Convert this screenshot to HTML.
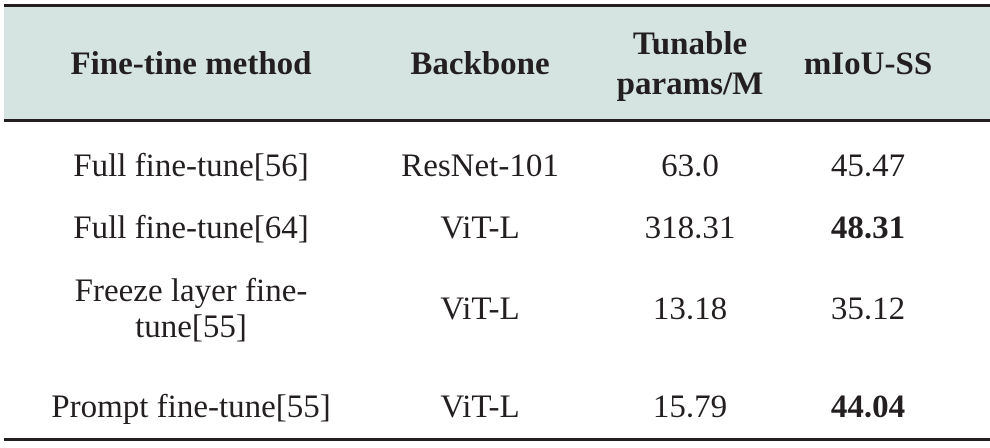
<!DOCTYPE html>
<html><head><meta charset="utf-8"><style>
body{margin:0;width:990px;height:448px;background:#fff;position:relative;overflow:hidden;font-family:"Liberation Serif",serif;color:#231f20;}
.line{position:absolute;left:4px;width:986px;background:#231f20;}
.hdr{position:absolute;left:4px;width:986px;top:7px;height:113px;background:#d5e4e1;}
.c{position:absolute;transform:translate(-50%,-50%);text-align:center;font-size:33px;line-height:36px;white-space:nowrap;}
.b{font-weight:bold;}
</style></head><body>
<div class="hdr"></div>
<div class="line" style="top:4px;height:3px"></div>
<div class="line" style="top:119px;height:3px"></div>
<div class="line" style="top:438px;height:3px"></div>

<div class="c b" style="left:191px;top:64px">Fine-tine method</div>
<div class="c b" style="left:480px;top:64px">Backbone</div>
<div class="c b" style="left:690px;top:64px;line-height:40px">Tunable<br>params/M</div>
<div class="c b" style="left:868px;top:64px">mIoU-SS</div>

<div class="c" style="left:191px;top:166px">Full fine-tune[56]</div>
<div class="c" style="left:480px;top:166px">ResNet-101</div>
<div class="c" style="left:690px;top:166px">63.0</div>
<div class="c" style="left:868px;top:166px">45.47</div>

<div class="c" style="left:191px;top:228px">Full fine-tune[64]</div>
<div class="c" style="left:480px;top:228px">ViT-L</div>
<div class="c" style="left:690px;top:228px">318.31</div>
<div class="c b" style="left:868px;top:228px">48.31</div>

<div class="c" style="left:191px;top:309px">Freeze layer fine-<br>tune[55]</div>
<div class="c" style="left:480px;top:309px">ViT-L</div>
<div class="c" style="left:690px;top:309px">13.18</div>
<div class="c" style="left:868px;top:309px">35.12</div>

<div class="c" style="left:191px;top:407px">Prompt fine-tune[55]</div>
<div class="c" style="left:480px;top:407px">ViT-L</div>
<div class="c" style="left:690px;top:407px">15.79</div>
<div class="c b" style="left:868px;top:407px">44.04</div>
</body></html>
